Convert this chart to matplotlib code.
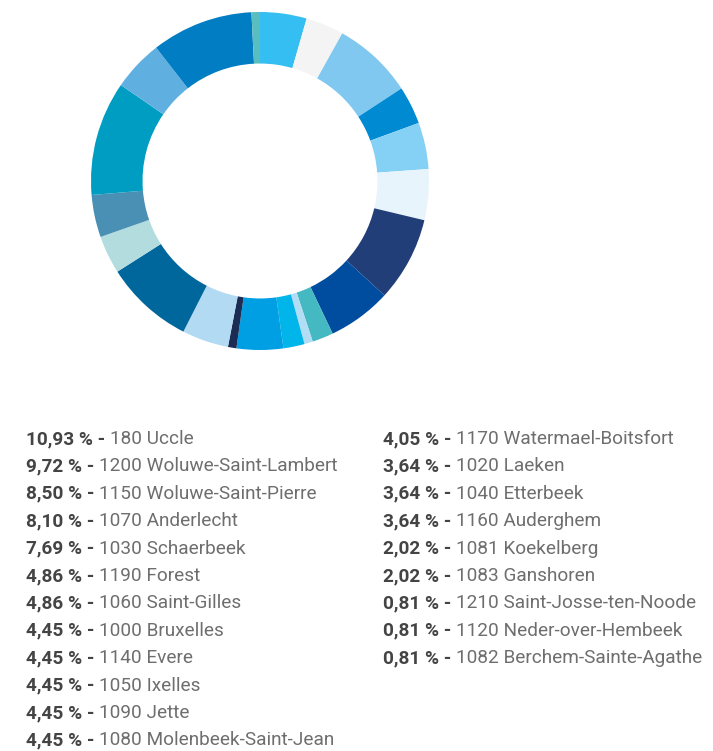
import matplotlib
matplotlib.use("Agg")
import matplotlib.pyplot as plt

# donut slices, clockwise from 12 o'clock (share in %)
slice_pct = [4.45, 3.64, 7.69, 3.64, 4.45, 4.86, 8.10, 6.10, 2.02, 0.81, 2.02,
             4.45, 0.81, 4.45, 8.50, 3.64, 4.05, 10.93, 4.86, 9.72, 0.81]
slice_colors = ["#35BEF2", "#F4F4F4", "#80C8F0", "#008AD2", "#85D0F5", "#E8F4FC",
                "#223E78", "#004C9F", "#45B9C2", "#B2DDF4", "#00B5EA", "#009FE3",
                "#1B2D55", "#B2DAF3", "#00679C", "#B2DCDD", "#4A90B5", "#009DC3",
                "#5FB0E1", "#007DC3", "#5ABDBF"]

# legend
left_pct = ["10,93 %", "9,72 %", "8,50 %", "8,10 %", "7,69 %", "4,86 %",
            "4,86 %", "4,45 %", "4,45 %", "4,45 %", "4,45 %", "4,45 %"]
left_names = ["180 Uccle", "1200 Woluwe-Saint-Lambert", "1150 Woluwe-Saint-Pierre",
              "1070 Anderlecht", "1030 Schaerbeek", "1190 Forest", "1060 Saint-Gilles",
              "1000 Bruxelles", "1140 Evere", "1050 Ixelles", "1090 Jette",
              "1080 Molenbeek-Saint-Jean"]
right_pct = ["4,05 %", "3,64 %", "3,64 %", "3,64 %", "2,02 %", "2,02 %",
             "0,81 %", "0,81 %", "0,81 %"]
right_names = ["1170 Watermael-Boitsfort", "1020 Laeken", "1040 Etterbeek",
               "1160 Auderghem", "1081 Koekelberg", "1083 Ganshoren",
               "1210 Saint-Josse-ten-Noode", "1120 Neder-over-Hembeek",
               "1082 Berchem-Sainte-Agathe"]

W, H = 713, 751
fig = plt.figure(figsize=(W / 100, H / 100), dpi=100)

# donut: center (260,181), outer r ~169 px
cx, cy, r = 260, 181, 169
ax = fig.add_axes([(cx - r) / W, 1 - (cy + r) / H, 2 * r / W, 2 * r / H])
ax.pie(slice_pct, colors=slice_colors, startangle=90, counterclock=False,
       radius=1.0, wedgeprops=dict(width=0.305, linewidth=0))
ax.set_aspect("equal")
ax.set_xlim(-1, 1); ax.set_ylim(-1, 1)
ax.axis("off")

tax = fig.add_axes([0, 0, 1, 1])
tax.set_xlim(0, W); tax.set_ylim(H, 0)
tax.axis("off")

FONT = "Roboto"
FS = 13.7
row0, step = 439, 27.4

def legend_col(x, pcts, names):
  for i, (p, n) in enumerate(zip(pcts, names)):
    y = row0 + i * step
    t = tax.text(x, y, p + " - ", fontsize=FS, fontweight="bold", color="#444444",
                 family=FONT, va="center", ha="left")
    tax.annotate(n, xy=(1, 0.5), xycoords=t, va="center", ha="left",
                 fontsize=FS, color="#6E6E6E", family=FONT)

legend_col(26, left_pct, left_names)
legend_col(383, right_pct, right_names)

fig.savefig("out.png", dpi=100, facecolor="white")
